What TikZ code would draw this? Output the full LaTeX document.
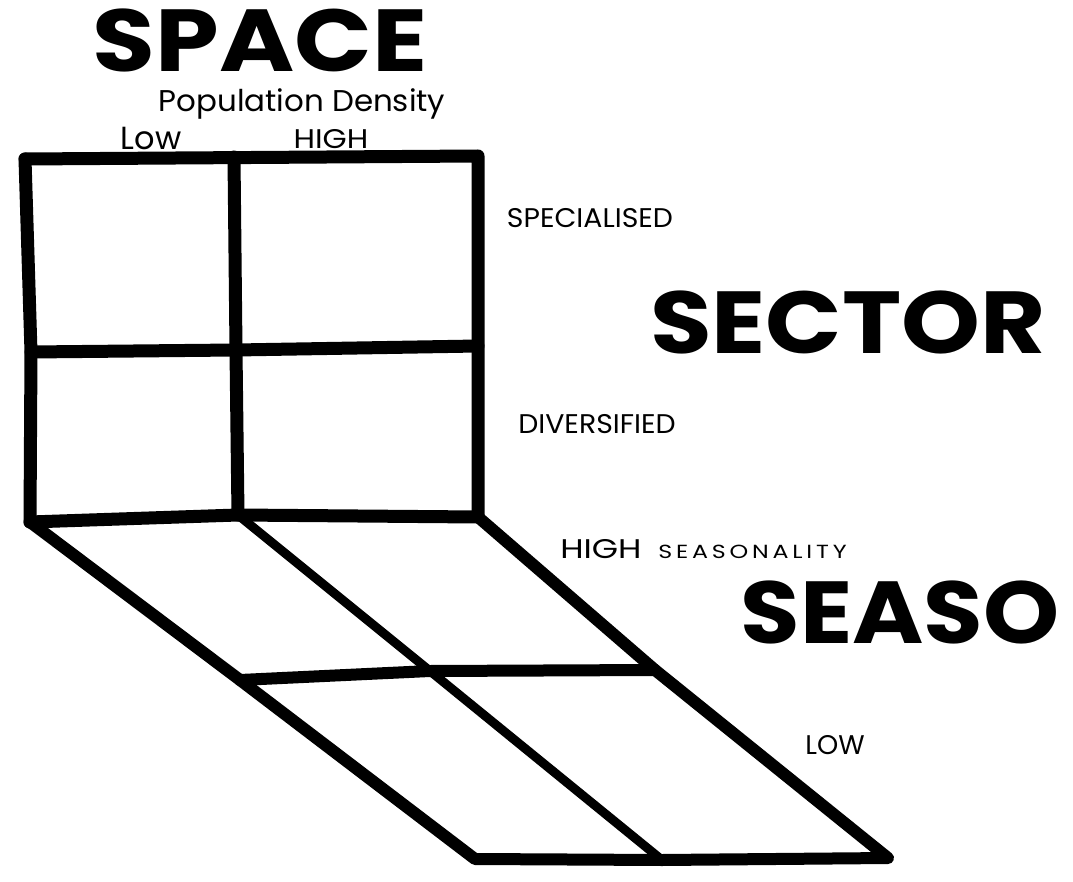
\documentclass[tikz,border=0pt]{standalone}
\usepackage{fontspec}
\setmainfont{Poppins}
\begin{document}
\begin{tikzpicture}[x=1pt,y=-1pt,
  frame/.style={line width=13pt,line join=round,line cap=round},
  floor/.style={line width=12pt,line join=round,line cap=round},
  inner/.style={line width=9pt,line join=round,line cap=round},
  big/.style={font=\fontsize{88}{88}\selectfont\bfseries,inner sep=0pt},
  hand/.style={font=\fontsize{30}{30}\selectfont,inner sep=0pt},
  lab/.style={font=\fontsize{27}{27}\selectfont,inner sep=0pt}]
\useasboundingbox (0,0) rectangle (1073,882);
% frame corners
\coordinate (tl) at (25,159);
\coordinate (tm) at (234,157);
\coordinate (tr) at (478,156);
\coordinate (ml) at (31,352);
\coordinate (mm) at (236,350);
\coordinate (mr) at (478,346);
\coordinate (bl) at (30,522);
\coordinate (bm) at (238,515);
\coordinate (br) at (478,517);
% floor corners
\coordinate (fl) at (475,859);
\coordinate (fm) at (662,860);
\coordinate (fr) at (888,858);
\coordinate (hl) at (240,680);
\coordinate (hm) at (430,671);
\coordinate (hr) at (655,670);
% vertical frame
\draw[frame] (tl) -- (tr) -- (mr) -- (br);
\draw[frame] (tl) -- (ml) -- (bl);
\draw[frame] (tm) -- (mm) -- (bm);
\draw[frame] (ml) -- (mm) -- (mr);
\draw[frame] (bl) -- (bm) -- (br);
% floor
\draw[floor] (bl) -- (hl) -- (fl) -- (fm) -- (fr) -- (hr) -- (br);
\draw[inner] (bm) -- (hm) -- (fm);
\draw[floor] (hl) -- (hm) -- (hr);
% texts
\node[big,xscale=1.16] (space) at (260,40) {SPACE};
\node[hand,xscale=1.03] (pop) at (302,104) {Population Density};
\node[lab,font=\fontsize{32}{32}\selectfont] (low) at (151,138) {Low};
\node[lab,xscale=1.15] (high) at (331,139) {HIGH};
\node[lab,xscale=1.05] (spec) at (590,218) {SPECIALISED};
\node[big,xscale=1.14] (sector) at (848,322) {SECTOR};
\node[lab,xscale=1.05] (div) at (597,424) {DIVERSIFIED};
\node[lab,anchor=west,xscale=1.25] (hs) at (560,549) {HIGH\hspace{0.5em}{\fontsize{19}{19}\selectfont\addfontfeatures{LetterSpace=16}SEASONALITY}};
\node[big,xscale=1.1] (seaso) at (900,612) {SEASO};
\node[lab] (lowb) at (835,745) {LOW};
\end{tikzpicture}
\end{document}
